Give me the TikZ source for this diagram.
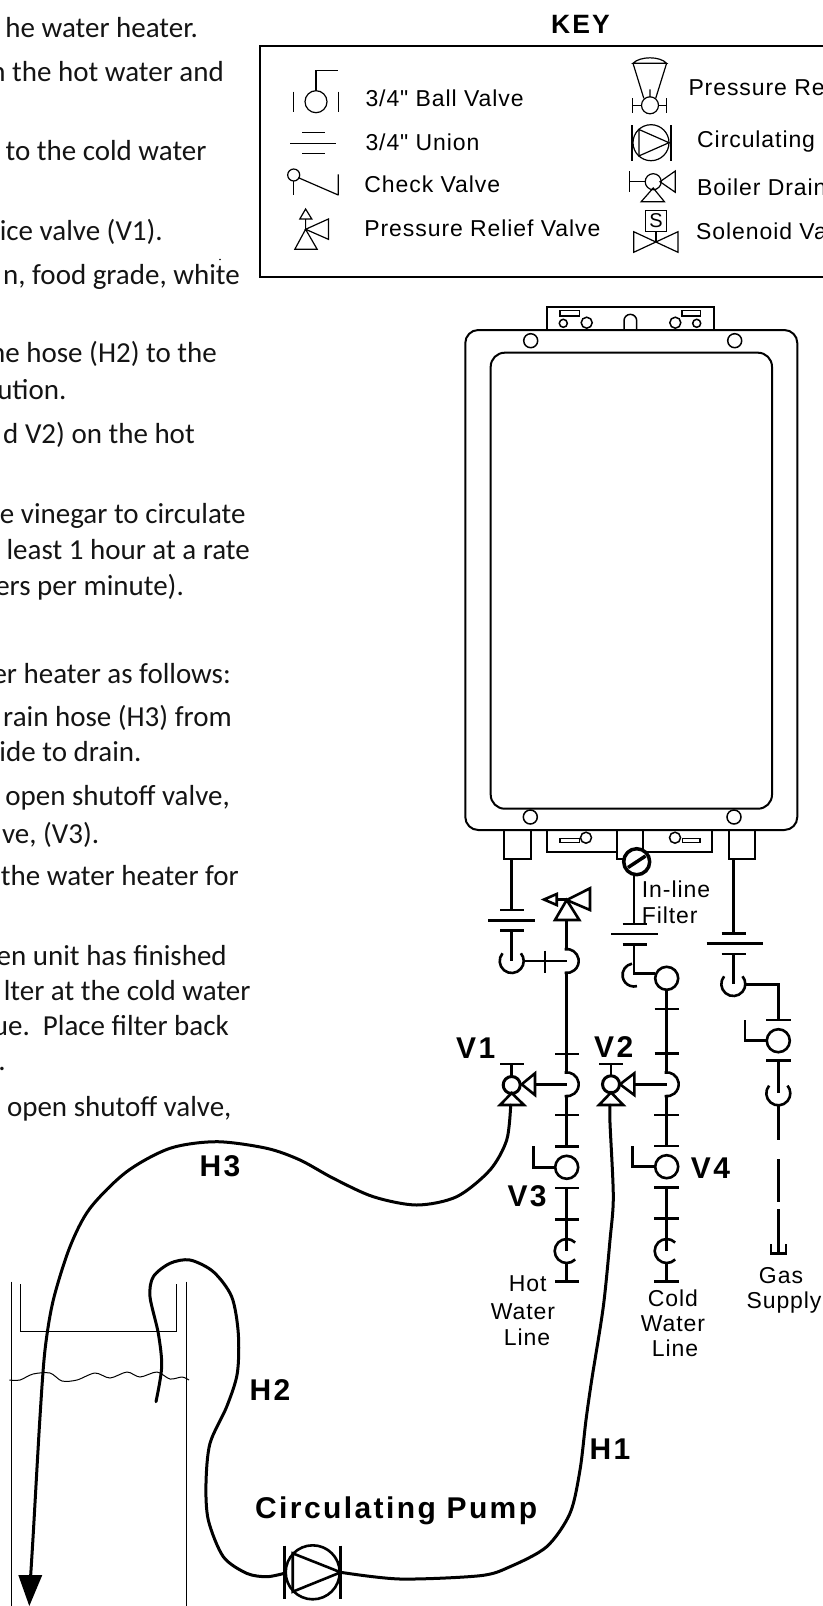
\documentclass[tikz,border=0pt]{standalone}
\usepackage{fontspec}
\setmainfont{Carlito}
\newfontfamily\arf[LetterSpace=4]{Liberation Sans}
\newfontfamily\arb[LetterSpace=8]{Liberation Sans Bold}
\newcommand\teeR[2]{\draw ([shift={(#1,#2)}]-100:12) arc (-100:100:12);}
\newcommand\cupU[2]{\draw ([shift={(#1,#2)}]-140:12) arc (-140:-400:12);}
\newcommand\cupC[2]{\draw ([shift={(#1,#2)}]-45:12) arc (-45:-315:12);}
\begin{document}
\begin{tikzpicture}[x=1pt,y=-1pt,
  para/.style={anchor=base east,inner sep=0pt,text=black!92,font=\fontsize{29}{29}\selectfont},
  keytxt/.style={anchor=base west,inner sep=0pt,font=\arf\fontsize{23}{25}\selectfont},
  lab/.style={anchor=base,inner sep=0pt,font=\arf\fontsize{23}{25}\selectfont},
  tag/.style={anchor=base west,inner sep=0pt,font=\arb\fontsize{30}{30}\selectfont},
  sym/.style={line width=1.2pt},
  pipe/.style={line width=2.6pt},
  fixture/.style={line width=2pt},
  hose/.style={line width=3pt,line cap=round},
  thinl/.style={line width=1pt}]
\useasboundingbox (0,0) rectangle (822,1606);
% ---- left text
\node[para] (p1) at (198,37) {he water heater.};
\node[para] (p2) at (224,81.4) {n the hot water and};
\node[para] (p3) at (206.7,160) {to the cold water};
\node[para] (p4) at (163,240) {ice valve (V1).};
\node[para] (p5) at (240,284) {n, food grade, white};
\fill (220,259.5) circle (0.8);
\node[para] (p6) at (217,362.5) {he hose (H2) to the};
\node[para] (p7) at (66.7,399) {ution.};
\node[para] (p8) at (195,443) {d V2) on the hot};
\node[para] (p9) at (245.7,523) {e vinegar to circulate};
\node[para] (p10) at (250,559) {least 1 hour at a rate};
\node[para] (p11) at (184,595) {ers per minute).};
\node[para] (p12) at (231,683) {er heater as follows:};
\node[para] (p13) at (232,726.5) {rain hose (H3) from};
\node[para] (p14) at (141.7,761.6) {ide to drain.};
\node[para] (p15) at (230,805) {open shutoff valve,};
\node[para] (p16) at (99.3,843) {ve, (V3).};
\node[para] (p17) at (239,885.6) {the water heater for};
\node[para] (p18) at (227,965) {en unit has finished};
\node[para] (p19) at (250.7,1000) {lter at the cold water};
\node[para] (p20) at (229,1035.4) {ue.\ \ Place filter back};
\node[para] (p21) at (6,1070.5) {.};
\node[para] (p22) at (231.7,1116) {open shutoff valve,};
% ---- key
\node[inner sep=0pt,anchor=base,font=\arb\fontsize{26.5}{26}\selectfont] (keyt) at (580.5,33) {KEY};
\draw[line width=1.8pt] (830,46) -- (260,46) -- (260,277) -- (830,277);
\begin{scope}[sym]
\draw (316,101.7) circle (11);
\draw (293.7,91.7) -- (293.7,111.7) (338.2,91.7) -- (338.2,111.7);
\draw (316,90.7) -- (316,70.7) -- (338.2,70.7);
\draw (302,132.7) -- (325,132.7) (290,143.3) -- (335.6,143.3) (302,153.7) -- (325,153.7);
\draw (293.7,175) circle (6);
\draw (293.7,181) -- (293.7,195.3);
\draw (298.4,177.7) -- (338.2,195) (338.2,174.3) -- (338.2,195.3);
\draw (305.6,209) -- (311.8,219) -- (299.8,219) -- cycle (305.6,219) -- (305.6,229.3);
\draw (305.6,229.3) -- (317.2,249.3) -- (294.8,249.3) -- cycle;
\draw (305.6,229.3) -- (328.4,219) -- (328.4,239.3) -- cycle;
\draw (633,63.3) .. controls (640,56) and (660,56) .. (666.6,63.3) -- cycle;
\draw (633,63.3) -- (643.8,98.3) (666.6,63.3) -- (655.7,98.3) (650,89.3) -- (650,97);
\draw (650,105.3) circle (8.5);
\draw (632.6,98.3) -- (632.6,112.7) (632.6,105.3) -- (641.5,105.3) (658.5,105.3) -- (666.6,105.3) (666.6,98.3) -- (666.6,112.7);
\draw (651,142.7) circle (18);
\draw (632,125) -- (632,160.7) (671,125) -- (671,160.7);
\draw (639,129.5) -- (669,142.7) -- (639,155.9) -- cycle;
\draw (653.2,181.7) circle (8);
\draw (629.7,171) -- (629.7,192.3) (629.7,181.7) -- (645.2,181.7);
\draw (660,181.7) -- (675.3,171) -- (675.3,192.3) -- cycle;
\draw (653.2,188) -- (664.4,201.7) -- (641.2,201.7) -- cycle;
\node[draw,sym,inner sep=0pt,minimum size=21pt,font=\arf\fontsize{20}{20}\selectfont] (sbox) at (656,221) {S};
\draw (sbox.south) -- (656,242);
\draw (633.7,231.7) -- (678,252.3) -- (678,231.7) -- (633.7,252.3) -- cycle;
\end{scope}
\node[keytxt] (k1) at (365.3,106.7) {3/4" Ball Valve};
\node[keytxt] (k2) at (365.3,150.7) {3/4" Union};
\node[keytxt] (k3) at (364.2,192.7) {Check Valve};
\node[keytxt] (k4) at (364.2,236.7) {Pressure Relief Valve};
\node[keytxt] (k5) at (688.3,95) {Pressure Re};
\node[keytxt] (k6) at (697,147.7) {Circulating P};
\node[keytxt] (k7) at (697,195.7) {Boiler Drain};
\node[keytxt] (k8) at (696,239.3) {Solenoid Va};
% ---- water heater
\begin{scope}[fixture]
\draw[rounded corners=13pt] (465.3,330) rectangle (797.3,830);
\draw[rounded corners=14pt] (490.7,352.7) rectangle (772,808.7);
\draw (547.3,330) -- (547.3,307.3) -- (714,307.3) -- (714,330);
\draw[line width=1.5pt] (530.7,340.7) circle (7) (734.7,340.7) circle (7) (530.3,817) circle (7) (734,817) circle (7);
\draw[line width=1.5pt] (560,310.7) rectangle (579.3,316) (682,310.7) rectangle (700.7,316);
\draw[line width=1.5pt] (563.3,323.3) circle (4) (586.7,322.7) circle (5.5) (675.3,322.7) circle (5.5) (696.7,323.3) circle (4);
\draw[line width=1.5pt] (624,330) -- (624,320.7) arc (-180:0:6.35) -- (636.7,330);
\draw (547.3,830) -- (547.3,852) -- (616.7,852) (643.3,852) -- (711.7,852) -- (711.7,830);
\draw[line width=1.5pt] (560,838.3) rectangle (579.3,842.7) (682.3,838.3) rectangle (700,842.7);
\draw[line width=1.5pt] (586,837.7) circle (5.5) (675,837.7) circle (5.5);
\draw (504,830) -- (504,859.3) -- (530.7,859.3) -- (530.7,830);
\draw (728.7,830) -- (728.7,859.3) -- (755,859.3) -- (755,830);
\draw (616.7,830) -- (616.7,859.3) -- (625,859.3) (642.7,830) -- (642.7,850);
\draw[line width=2.6pt] (625,830) -- (650,830);
\end{scope}
% filter
\node[circle,draw,line width=3.5pt,fill=white,inner sep=0pt,minimum size=26pt] (filt) at (636.7,861.7) {};
\draw[line width=3.5pt] (628,867.5) -- (645.5,856);
% ---- pipes
\begin{scope}[pipe]
\coordinate (hotA) at (511.7,859.3);
\coordinate (hotB) at (511.7,961);
\draw (hotA) -- (511.7,910);
\draw (500,910) -- (524,910) (488.3,920.3) -- (535,920.3) (500,930.7) -- (524,930.7);
\draw (511.7,930.7) -- (hotB);
\cupU{511.7}{961}
\draw (524,961) -- (566.7,961) (545,950.7) -- (545,972.7);
\teeR{566.7}{961}
\draw (566.7,900) -- (579.3,920) -- (555,920) -- cycle;
\draw (566.7,920) -- (566.7,949);
\draw (566.7,973) -- (566.7,1072.3);
\draw (566.7,900) -- (590,888.3) -- (590,910) -- cycle;
\draw (566.7,899.5) -- (556.7,899.5) (556.7,894) -- (544,899.5) -- (556.7,905) -- cycle;
\draw (555,1054) -- (579.3,1054);
\teeR{566.7}{1084.3}
\draw (566.7,1084.3) -- (535,1084.3);
\draw (521.7,1084.3) -- (535,1073.3) -- (535,1095) -- cycle;
\draw[line width=3pt] (511.7,1085) circle (8.5);
\draw (511.7,1076) -- (511.7,1064) (500,1064) -- (524,1064);
\draw (511.7,1093) -- (524,1105) -- (500,1105) -- cycle;
\draw (566.7,1096.3) -- (566.7,1146.7);
\draw (555,1115) -- (579.3,1115) (555,1146.7) -- (579.3,1146.7);
\draw (566.7,1167.3) circle (11.5);
\draw (555,1167.3) -- (533.3,1167.3) -- (533.3,1146);
\draw (555,1188) -- (579.3,1188) (555,1219.3) -- (579.3,1219.3);
\draw (566.7,1188) -- (566.7,1251);
\cupC{566.7}{1251}
\draw (566.7,1263) -- (566.7,1281.7);
\draw (555,1281.7) -- (579.3,1281.7);
% cold side
\draw (634,875) -- (634,924);
\draw (622.7,924) -- (646.7,924) (611,934) -- (657.7,934) (622.7,944.7) -- (646.7,944.7);
\draw (634,944.7) -- (634,973.3) -- (655,973.3);
\draw ([shift={(634,975)}]-100:11.5) arc (-100:-285:11.5);
\draw (666.7,978.3) circle (11.5);
\draw (666.7,990) -- (666.7,1072.3);
\draw (654.5,1009) -- (679,1009) (654.5,1053.3) -- (679,1053.3);
\teeR{666.7}{1084.3}
\draw (666.7,1084.3) -- (634.3,1084.3);
\draw (620,1084.3) -- (634.3,1073.3) -- (634.3,1095) -- cycle;
\draw[line width=3pt] (611,1084.3) circle (8.5);
\draw (611,1075.5) -- (611,1064) (599,1064) -- (623.3,1064);
\draw (611,1092.5) -- (623.3,1105) -- (599,1105) -- cycle;
\draw (666.7,1096.3) -- (666.7,1146);
\draw (654,1115) -- (679.3,1115) (654,1146) -- (679.3,1146);
\draw (666.7,1166.7) circle (11.5);
\draw (655,1166.7) -- (632.7,1166.7) -- (632.7,1146);
\draw (654,1187.3) -- (679.3,1187.3) (654,1218.3) -- (679.3,1218.3);
\draw (666.7,1187.3) -- (666.7,1251);
\cupC{666.7}{1251}
\draw (666.7,1263) -- (666.7,1281.3);
\draw[line width=3pt] (654,1281.3) -- (679.3,1281.3);
% gas
\draw (733.3,859.3) -- (733.3,933.3);
\draw (721.7,933.3) -- (746,933.3) (706.7,943.7) -- (763.3,943.7) (721.7,954) -- (746,954);
\draw (733.3,954) -- (733.3,984);
\cupU{733.3}{984}
\draw (745.3,984.3) -- (778.3,984.3) -- (778.3,1020);
\draw (766,1020) -- (790.7,1020);
\draw (778.3,1040.7) circle (11.5);
\draw (766,1040.7) -- (745,1040.7) -- (745,1020);
\draw (766,1060.7) -- (790.7,1060.7);
\draw (778.3,1060.7) -- (778.3,1093.3);
\cupU{778.3}{1093.3}
\draw[line width=3.4pt] (778.3,1105.3) -- (778.3,1140) (778.3,1159.3) -- (778.3,1201.7) (778.3,1209.3) -- (778.3,1253.3);
\draw[line width=2.8pt] (771,1244) -- (771,1253.3) -- (786,1253.3) -- (786,1244);
\end{scope}
% ---- labels
\node[lab,anchor=base west] (filterA) at (641.7,897.3) {In-line};
\node[lab,anchor=base west] (filterB) at (641.7,923.3) {Filter};
\node[lab] (hotw1) at (527.7,1291.7) {Hot};
\node[lab] (hotw2) at (523,1319.3) {Water};
\node[lab] (hotw3) at (527,1345) {Line};
\node[lab] (cold1) at (673,1306.7) {Cold};
\node[lab] (cold2) at (673,1331.7) {Water};
\node[lab] (cold3) at (675,1356.7) {Line};
\node[lab] (gas1) at (781,1283.3) {Gas};
\node[lab] (gas2) at (784,1308.3) {Supply};
\node[tag] (v1) at (456,1058.3) {V1};
\node[tag] (v2) at (594,1057.3) {V2};
\node[tag] (v3) at (507.3,1206.7) {V3};
\node[tag] (v4) at (690.7,1178.3) {V4};
\node[tag] (h3) at (199.3,1176) {H3};
\node[tag] (h2) at (249.3,1400) {H2};
\node[tag] (h1) at (589.3,1459) {H1};
\node[tag] (pumpl) at (255,1518.3) {Circulating Pump};
% ---- tank
\draw[thinl] (11,1281.7) -- (11,1606) (186.7,1281.7) -- (186.7,1606);
\draw[thinl] (20.7,1284) -- (20.7,1331.7) -- (176,1331.7) -- (176,1284);
\draw[thinl] plot[smooth] coordinates {(9.3,1380) (20,1380) (33,1374) (50,1373) (62,1381) (77,1380) (95,1373) (110,1378) (127,1372) (140,1377) (157,1372) (170,1379) (182,1377) (189,1380)};
% ---- pump
\draw[pipe] (312.7,1572.3) circle (27);
\draw[pipe] (284.3,1545.7) -- (284.3,1599) (340.7,1545.7) -- (340.7,1599);
\draw[pipe] (292.7,1553.3) -- (340.7,1572.3) -- (292.7,1591.7) -- cycle;
\coordinate (pumpL) at (284.3,1573.3);
\coordinate (pumpR) at (340.7,1572.3);
\coordinate (v1out) at (510.7,1105);
\coordinate (v2out) at (610,1105);
% ---- hoses
\draw[hose] plot[smooth] coordinates {(v2out) (610,1123) (613.3,1196.7) (610,1240) (603.3,1306.7) (591.7,1380) (586,1420) (580,1470) (570,1513.3) (546.7,1546.7) (510,1566.7) (480,1575.7) (400,1579) (pumpR)};
\draw[hose] plot[smooth] coordinates {(156,1401.7) (161.7,1366.7) (158.3,1333.3) (150,1296.7) (153.3,1276.7) (170,1263.3) (190,1260) (213.3,1271.7) (231.7,1296.7) (238.3,1333.3) (237.3,1373.3) (226.7,1406.7) (210,1443.3) (206,1483.3) (208.3,1520) (223.3,1556.7) (246.7,1573.3) (266.7,1576.7) (pumpL)};
\draw[hose] plot[smooth] coordinates {(v1out) (506.7,1140) (490,1170) (456.7,1196.7) (416.7,1205) (373.3,1196.7) (333.3,1178.3) (300,1160) (266.7,1148.3) (216.7,1141.7) (170,1148.3) (126.7,1171.7) (90,1208.3) (70,1246.7) (53.3,1300) (45,1350) (40,1416.7) (33.3,1533) (30.7,1575)};
\fill (18.3,1575) -- (42.3,1575) -- (29.3,1606) -- cycle;
\end{tikzpicture}
\end{document}
